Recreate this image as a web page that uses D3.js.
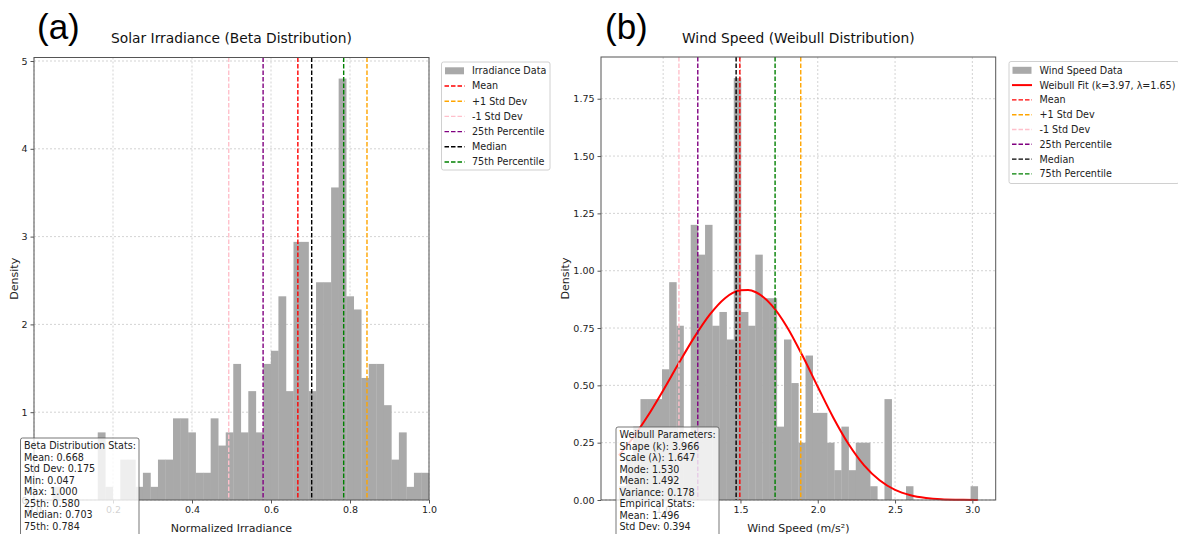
<!DOCTYPE html>
<html>
<head>
<meta charset="utf-8">
<script src="https://cdn.jsdelivr.net/npm/d3@7"></script>
<style>
  body { margin: 0; background: #ffffff; }
  svg { display: block; font-family: "DejaVu Sans", sans-serif; }
</style>
</head>
<body>
<svg id="chart" width="1178" height="534"></svg>
<script>
// ---- data ----
const refLabels = ["Mean", "+1 Std Dev", "-1 Std Dev", "25th Percentile", "Median", "75th Percentile"];

// (a) solar irradiance: 50 density bins between min and max
const irrBinRange = [0.047, 1.0];
const irrDensity = [0.15, 0, 0, 0, 0, 0, 0.77, 0.15, 0, 0.46,
  0.46, 0.15, 0.31, 0.15, 0.46, 0.46, 0.93, 0.93, 0.77, 0.31,
  0.31, 0.93, 0.62, 0.77, 1.55, 0.77, 1.24, 0.77, 1.55, 1.70,
  2.32, 1.24, 2.94, 2.94, 1.24, 2.48, 2.48, 3.56, 4.80, 2.32,
  2.17, 1.39, 1.55, 1.55, 1.08, 0.46, 0.77, 0.15, 0.31, 0.31];
const irrRefValues = [0.668, 0.843, 0.493, 0.580, 0.703, 0.784];
const irrXTicks = [0.0, 0.2, 0.4, 0.6, 0.8, 1.0];
const irrYTicks = [0, 1, 2, 3, 4, 5];
const irrStats = ["Beta Distribution Stats:", "Mean: 0.668", "Std Dev: 0.175", "Min: 0.047",
  "Max: 1.000", "25th: 0.580", "Median: 0.703", "75th: 0.784"];

// (b) wind speed: 50 density bins between min and max
const windBinRange = [0.714, 3.035];
const windDensity = [0.06, 0.19, 0.32, 0.44, 0.44, 0.44, 0.57, 0.95, 0.76, 0.25,
  1.20, 1.07, 1.20, 0.76, 0.82, 0.70, 1.84, 0.82, 0.76, 1.07,
  0.88, 0.88, 0.32, 0.70, 0.51, 0.25, 0.63, 0.38, 0.38, 0.25,
  0.13, 0.32, 0.13, 0.25, 0.25, 0.06, 0, 0.44, 0, 0,
  0.06, 0, 0, 0, 0, 0, 0, 0, 0, 0.06];
const weibullX = [0.714, 0.8, 0.9, 1.0, 1.1, 1.2, 1.3, 1.4, 1.45, 1.5, 1.55, 1.6, 1.7, 1.8, 1.9,
  2.0, 2.1, 2.2, 2.3, 2.4, 2.5, 2.6, 2.7, 2.8, 2.9, 3.035];
const weibullY = [0.195, 0.267, 0.366, 0.478, 0.595, 0.708, 0.807, 0.880, 0.903, 0.915, 0.916, 0.906, 0.851, 0.756, 0.631,
  0.494, 0.360, 0.243, 0.151, 0.086, 0.044, 0.021, 0.009, 0.003, 0.001, 0.0002];
const windRefValues = [1.496, 1.890, 1.102, 1.224, 1.472, 1.724];
const windXTicks = [1.0, 1.5, 2.0, 2.5, 3.0];
const windYTicks = [0, 0.25, 0.5, 0.75, 1.0, 1.25, 1.5, 1.75];
const windStats = ["Weibull Parameters:", "Shape (k): 3.966", "Scale (\u03bb): 1.647", "Mode: 1.530",
  "Mean: 1.492", "Variance: 0.178", "Empirical Stats:", "Mean: 1.496", "Std Dev: 0.394"];

// ---- styles ----
const refColors = ["red", "orange", "pink", "purple", "black", "green"];
const barFill = "#a9a9a9";
const frameColor = "#555555";

const svg = d3.select("#chart");

function drawPanel(p) {
  const g = svg.append("g");
  const lo = p.binRange[0], hi = p.binRange[1];
  const nBins = p.density.length;
  const edges = d3.range(nBins + 1).map(function(i) { return lo + (hi - lo) * i / nBins; });

  const x = d3.scaleLinear().domain(p.xDomain).range([p.left, p.right]);
  const y = d3.scaleLinear().domain([0, d3.max(p.density) * 1.05]).range([p.bottom, p.top]);

  // grid
  g.append("g").selectAll("line").data(p.xTicks).join("line")
    .attr("x1", function(d) { return x(d); }).attr("x2", function(d) { return x(d); })
    .attr("y1", p.top).attr("y2", p.bottom)
    .attr("stroke", "#c8c8c8").attr("stroke-width", 0.8).attr("stroke-dasharray", "2,2");
  g.append("g").selectAll("line").data(p.yTicks).join("line")
    .attr("x1", p.left).attr("x2", p.right)
    .attr("y1", function(d) { return y(d); }).attr("y2", function(d) { return y(d); })
    .attr("stroke", "#c8c8c8").attr("stroke-width", 0.8).attr("stroke-dasharray", "2,2");

  // bars
  g.append("g").selectAll("rect").data(p.density).join("rect")
    .attr("x", function(d, i) { return x(edges[i]); })
    .attr("width", function(d, i) { return x(edges[i + 1]) - x(edges[i]) + 0.3; })
    .attr("y", function(d) { return y(d); })
    .attr("height", function(d) { return y(0) - y(d); })
    .attr("fill", barFill);

  // fitted curve
  if (p.curveX) {
    const line = d3.line()
      .x(function(d, i) { return x(p.curveX[i]); })
      .y(function(d) { return y(d); })
      .curve(d3.curveMonotoneX);
    g.append("path").datum(p.curveY).attr("d", line)
      .attr("fill", "none").attr("stroke", "red").attr("stroke-width", 2);
  }

  // reference lines
  g.append("g").selectAll("line").data(p.refValues).join("line")
    .attr("x1", function(d) { return x(d); }).attr("x2", function(d) { return x(d); })
    .attr("y1", p.top).attr("y2", p.bottom)
    .attr("stroke", function(d, i) { return refColors[i]; })
    .attr("stroke-width", 1.4).attr("stroke-dasharray", "4.5,2");

  // frame
  g.append("rect").attr("x", p.left).attr("y", p.top)
    .attr("width", p.right - p.left).attr("height", p.bottom - p.top)
    .attr("fill", "none").attr("stroke", frameColor).attr("stroke-width", 1);

  // axes
  const xAxis = d3.axisBottom(x).tickValues(p.xTicks).tickFormat(d3.format(".1f")).tickSizeInner(3.5).tickSizeOuter(0).tickPadding(3);
  const yAxis = d3.axisLeft(y).tickValues(p.yTicks).tickFormat(d3.format(p.yFormat)).tickSizeInner(3.5).tickSizeOuter(0).tickPadding(3);
  const gx = g.append("g").attr("transform", "translate(0," + p.bottom + ")").call(xAxis);
  const gy = g.append("g").attr("transform", "translate(" + p.left + ",0)").call(yAxis);
  [gx, gy].forEach(function(ax) {
    ax.select(".domain").remove();
    ax.selectAll("line").attr("stroke", frameColor);
    ax.selectAll("text").attr("fill", "#222").style("font-size", "9.5px").style("font-family", "DejaVu Sans");
  });

  // labels
  g.append("text").attr("x", (p.left + p.right) / 2).attr("y", 532)
    .attr("text-anchor", "middle").style("font-size", "11px").attr("fill", "#222").text(p.xLabel);
  g.append("text").attr("transform", "translate(" + p.yLabelX + "," + ((p.top + p.bottom) / 2) + ") rotate(-90)")
    .attr("text-anchor", "middle").style("font-size", "11px").attr("fill", "#222").text("Density");
  g.append("text").attr("x", (p.left + p.right) / 2).attr("y", 42.5)
    .attr("text-anchor", "middle").style("font-size", "13.8px").attr("fill", "#111").text(p.title);
  g.append("text").attr("x", p.letterX).attr("y", 39)
    .style("font-family", "Liberation Sans, Arial, sans-serif").style("font-size", "35px").attr("fill", "#000").text(p.letter);

  // legend
  const lg = g.append("g").attr("transform", "translate(" + p.legend.x + "," + p.legend.y + ")");
  lg.append("rect").attr("width", p.legend.w).attr("height", p.legend.h).attr("rx", 2)
    .attr("fill", "white").attr("fill-opacity", 0.8).attr("stroke", "#d0d0d0");
  p.legendItems.forEach(function(item, i) {
    const cy = 8.8 + i * p.legend.step;
    if (item.kind === "patch") {
      lg.append("rect").attr("x", 3.5).attr("y", cy - 3.5).attr("width", 19).attr("height", 7).attr("fill", barFill);
    } else {
      lg.append("line").attr("x1", 3).attr("x2", 23).attr("y1", cy).attr("y2", cy)
        .attr("stroke", item.color).attr("stroke-width", item.kind === "solid" ? 2 : 1.4)
        .attr("stroke-dasharray", item.kind === "solid" ? null : "4.5,2");
    }
    lg.append("text").attr("x", 30.5).attr("y", cy + 3.4).style("font-size", "9.6px").attr("fill", "#222").text(item.label);
  });

  // stats box
  const sb = g.append("g").attr("transform", "translate(" + p.stats.x + "," + p.stats.y + ")");
  sb.append("rect").attr("width", p.stats.w).attr("height", 140).attr("rx", 2)
    .attr("fill", "white").attr("fill-opacity", 0.8).attr("stroke", "#555").attr("stroke-opacity", 0.8);
  sb.selectAll("text").data(p.statsLines).join("text")
    .attr("x", 3.5).attr("y", function(d, i) { return 11 + i * 11.55; })
    .style("font-size", "9.6px").attr("fill", "#222").text(function(d) { return d; });
}

const irrLegend = [{ kind: "patch", label: "Irradiance Data" }].concat(
  refLabels.map(function(l, i) { return { kind: "dash", label: l, color: refColors[i] }; }));
const windLegend = [{ kind: "patch", label: "Wind Speed Data" },
  { kind: "solid", label: "Weibull Fit (k=3.97, \u03bb=1.65)", color: "red" }].concat(
  refLabels.map(function(l, i) { return { kind: "dash", label: l, color: refColors[i] }; }));

function padDomain(r) {
  const span = r[1] - r[0];
  return [r[0] - 0.05 * span, r[1] + 0.05 * span];
}

drawPanel({
  left: 34, right: 429, top: 57.5, bottom: 500,
  binRange: irrBinRange, density: irrDensity, xDomain: [0, 1],
  xTicks: irrXTicks, yTicks: irrYTicks, yFormat: "d",
  refValues: irrRefValues,
  title: "Solar Irradiance (Beta Distribution)", xLabel: "Normalized Irradiance",
  yLabelX: 18, letter: "(a)", letterX: 37,
  legend: { x: 441.5, y: 62, w: 108.5, h: 108, step: 15.2 }, legendItems: irrLegend,
  stats: { x: 20.5, y: 438, w: 118.5 }, statsLines: irrStats
});

drawPanel({
  left: 601, right: 995.7, top: 57, bottom: 500,
  binRange: windBinRange, density: windDensity, xDomain: padDomain(windBinRange),
  curveX: weibullX, curveY: weibullY,
  xTicks: windXTicks, yTicks: windYTicks, yFormat: ".2f",
  refValues: windRefValues,
  title: "Wind Speed (Weibull Distribution)", xLabel: "Wind Speed (m/s\u00b2)",
  yLabelX: 569, letter: "(b)", letterX: 605,
  legend: { x: 1009, y: 61.5, w: 170, h: 122, step: 14.8 }, legendItems: windLegend,
  stats: { x: 616, y: 427, w: 103 }, statsLines: windStats
});
</script>
</body>
</html>
